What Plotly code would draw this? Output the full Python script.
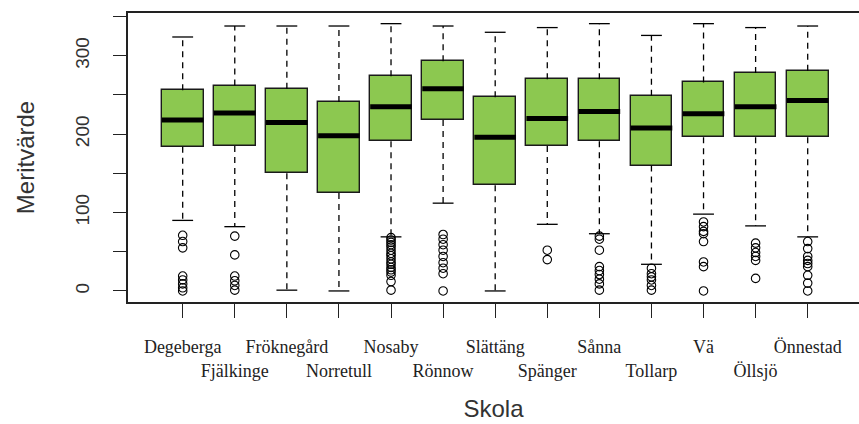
import plotly.graph_objects as go

schools = ["Degeberga", "Fjälkinge", "Fröknegård", "Norretull", "Nosaby", "Rönnow",
           "Slättäng", "Spänger", "Sånna", "Tollarp", "Vä", "Öllsjö", "Önnestad"]
lower_whisker = [90, 82, 1, 0, 69, 112, 0, 85, 73, 34, 98, 83, 69]
q1 = [184, 185, 150, 125, 191, 218, 135, 185, 191, 160, 196, 196, 196]
median = [218, 227, 215, 198, 235, 258, 196, 220, 229, 208, 226, 235, 243]
q3 = [256, 262, 258, 241, 274, 293, 247, 270, 270, 249, 266, 278, 281]
upper_whisker = [324, 338, 338, 338, 341, 338, 330, 336, 341, 326, 341, 336, 338]
outliers = [
    [71, 63, 55, 19, 14, 9, 4, 0],
    [70, 46, 19, 13, 7, 1],
    [],
    [],
    [68, 65, 62, 59, 56, 52, 48, 45, 41, 37, 34, 30, 27, 24, 20, 12, 1],
    [72, 66, 59, 52, 44, 36, 29, 22, 0],
    [],
    [52, 40],
    [70, 66, 52, 31, 26, 21, 15, 9, 1],
    [29, 22, 18, 14, 7, 1],
    [88, 82, 76, 73, 63, 37, 31, 0],
    [61, 55, 49, 44, 39, 16],
    [63, 54, 44, 39, 35, 31, 20, 10, 0],
]
y_ticks = [0, 50, 100, 150, 200, 250, 300, 350]
y_ticklabels = ["0", "", "100", "", "200", "", "300", ""]

pos = list(range(1, len(schools) + 1))
HALF = 0.4
CAP = 0.2
GREEN = "#8CC850"

fig = go.Figure()

# whiskers (dashed)
wx, wy = [], []
for p, lo, a, b, hi in zip(pos, lower_whisker, q1, q3, upper_whisker):
    wx += [p, p, None, p, p, None]
    wy += [b, hi, None, a, lo, None]
fig.add_trace(go.Scatter(x=wx, y=wy, mode="lines",
                         line=dict(color="black", width=1.3, dash="6px,5px"),
                         hoverinfo="skip", showlegend=False))
# caps
cx, cy = [], []
for p, lo, hi in zip(pos, lower_whisker, upper_whisker):
    cx += [p - CAP, p + CAP, None, p - CAP, p + CAP, None]
    cy += [hi, hi, None, lo, lo, None]
fig.add_trace(go.Scatter(x=cx, y=cy, mode="lines",
                         line=dict(color="black", width=1.3),
                         hoverinfo="skip", showlegend=False))
# boxes
fig.add_trace(go.Bar(x=pos, y=[b - a for a, b in zip(q1, q3)], base=q1, width=2 * HALF,
                     marker=dict(color=GREEN, line=dict(color="#1a1a1a", width=1.4)),
                     showlegend=False))
# medians
mx, my = [], []
for p, m in zip(pos, median):
    mx += [p - HALF, p + HALF, None]
    my += [m, m, None]
fig.add_trace(go.Scatter(x=mx, y=my, mode="lines",
                         line=dict(color="black", width=5),
                         hoverinfo="skip", showlegend=False))
# outliers
ox, oy = [], []
for p, outs in zip(pos, outliers):
    for v in outs:
        ox.append(p)
        oy.append(v)
fig.add_trace(go.Scatter(x=ox, y=oy, mode="markers",
                         marker=dict(symbol="circle-open", size=8.5, color="black",
                                     line=dict(width=1.1)),
                         showlegend=False))

ticktext = [s if i % 2 == 0 else "<br>" + s for i, s in enumerate(schools)]

fig.update_layout(
    width=859, height=424,
    margin=dict(l=128, r=0, t=13, b=122),
    paper_bgcolor="white", plot_bgcolor="white",
    bargap=0,
    xaxis=dict(
        range=[-0.05, 13.985], tickmode="array", tickvals=pos, ticktext=ticktext,
        showgrid=False, zeroline=False, showline=True, mirror=True,
        linecolor="#222", linewidth=1.5,
        ticks="outside", ticklen=14, tickwidth=1.3, tickcolor="#222",
        tickangle=0, ticklabelstandoff=14,
        tickfont=dict(family="Liberation Serif", size=18, color="#222"),
        title=dict(text="Skola", standoff=20,
                   font=dict(family="Liberation Sans", size=24, color="#333")),
    ),
    yaxis=dict(
        range=[-14.1, 354.6], tickmode="array", tickvals=y_ticks, ticktext=y_ticklabels,
        showgrid=False, zeroline=False, showline=True, mirror=False,
        linecolor="#222", linewidth=1.5,
        ticks="outside", ticklen=13, tickwidth=1.3, tickcolor="#222",
        tickangle=-90, ticklabelstandoff=17,
        tickfont=dict(family="Liberation Sans", size=19, color="#333"),
        title=dict(text="Meritvärde", standoff=30,
                   font=dict(family="Liberation Sans", size=24, color="#333")),
    ),
)

fig.write_html("out.html")
